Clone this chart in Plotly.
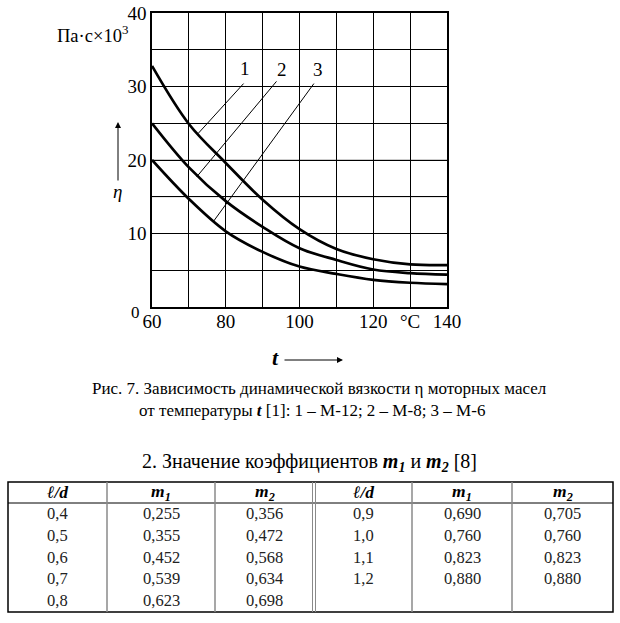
import plotly.graph_objects as go

# ---------------- data ----------------
temperature = [60, 70, 80, 90, 100, 110, 120, 130, 140]
visc_m12 = [32.8, 24.9, 19.6, 14.6, 10.6, 7.9, 6.5, 5.8, 5.7]
visc_m8 = [25.0, 19.0, 14.4, 10.9, 8.0, 6.4, 5.1, 4.6, 4.4]
visc_m6 = [20.0, 14.7, 10.3, 7.5, 5.5, 4.5, 3.7, 3.3, 3.1]

x_ticks = [60, 70, 80, 90, 100, 110, 120, 130, 140]
x_ticktext = ["60", "", "80", "", "100", "", "120", "°C", "140"]
y_ticks = [0, 5, 10, 15, 20, 25, 30, 35, 40]
y_ticktext = ["", "", "10", "", "20", "", "30", "", "40"]

ld_left = [0.4, 0.5, 0.6, 0.7, 0.8]
m1_left = [0.255, 0.355, 0.452, 0.539, 0.623]
m2_left = [0.356, 0.472, 0.568, 0.634, 0.698]
ld_right = [0.9, 1.0, 1.1, 1.2]
m1_right = [0.690, 0.760, 0.823, 0.880]
m2_right = [0.705, 0.760, 0.823, 0.880]

W, H = 620, 623
SERIF = "Liberation Serif, Times New Roman, serif"


def px(x):
    return x / W


def py(y):
    return 1 - y / H


def ptext(x, y, text, size, color="black", xanchor="center"):
    return dict(x=px(x), y=py(y), xref="paper", yref="paper", xanchor=xanchor, yanchor="middle",
                text=text, showarrow=False, font=dict(family=SERIF, size=size, color=color))


fig = go.Figure()
for vals in (visc_m12, visc_m8, visc_m6):
    fig.add_trace(go.Scatter(x=temperature, y=vals, mode="lines",
                             line=dict(color="black", width=2.7, shape="spline", smoothing=1.0),
                             hoverinfo="skip", showlegend=False))

ann = []
shapes = []

# gray grid lines (scan look)
for yv in (15, 20):
    shapes.append(dict(type="line", xref="x", yref="y", x0=60, x1=140, y0=yv, y1=yv,
                       line=dict(color="#9a9a9a", width=1.2), layer="below"))

# curve labels with leader lines
labels = [("1", 85.2, 32.5, 85.2, 30.6, 72.5, 23.6),
          ("2", 95.2, 32.3, 94.1, 30.9, 72.1, 17.7),
          ("3", 105.1, 32.3, 104.2, 30.6, 76.6, 11.6)]
for txt, lx, ly, x0, y0, x1, y1 in labels:
    ann.append(dict(x=lx, y=ly, xref="x", yref="y", text=txt, showarrow=False,
                    xanchor="center", yanchor="middle",
                    font=dict(family=SERIF, size=19, color="black")))
    ann.append(dict(x=x1, y=y1, xref="x", yref="y", ax=x0, ay=y0, axref="x", ayref="y",
                    text="", showarrow=True, arrowhead=0, arrowwidth=1, arrowcolor="black"))

# axis decorations
ann.append(ptext(130, 34, "Па·с×10<sup>3</sup>", 18.5, xanchor="right"))
ann.append(ptext(135, 312, "0", 17))
ann.append(dict(x=px(118), y=py(122), xref="paper", yref="paper", ax=0, ay=60, text="",
                showarrow=True, arrowhead=2, arrowsize=1.2, arrowwidth=1, arrowcolor="black"))
ann.append(ptext(117, 192, "<i>η</i>", 19))
ann.append(ptext(275, 357, "<b><i>t</i></b>", 22))
ann.append(dict(x=px(343), y=py(360), xref="paper", yref="paper", ax=-60, ay=0, text="",
                showarrow=True, arrowhead=2, arrowsize=1.2, arrowwidth=1, arrowcolor="black"))

# caption
ann.append(ptext(319, 388, "Рис. 7. Зависимость динамической вязкости η моторных масел", 17))
ann.append(ptext(312, 410, "от температуры <b><i>t</i></b> [1]: 1 – М-12; 2 – М-8; 3 – М-6", 17))
ann.append(ptext(309, 462, "2. Значение коэффициентов <b><i>m<sub>1</sub></i></b> и <b><i>m<sub>2</sub></i></b> [8]", 20))

# table
col_edges = [8, 107, 215, 314, 412, 512, 613]
col_centers = [(col_edges[i] + col_edges[i + 1]) / 2 for i in range(6)]
top, head_bot, bottom = 482, 503, 612
row_centers = [513, 535, 557, 578, 600]
headers = ["<b><i>ℓ/d</i></b>", "<b><i>m<sub>1</sub></i></b>", "<b><i>m<sub>2</sub></i></b>"] * 2
for c, h in zip(col_centers, headers):
    ann.append(ptext(c, 492.5, h, 17.5))


def fmt(v, d):
    return f"{v:.{d}f}".replace(".", ",")


columns = [(ld_left, 1), (m1_left, 3), (m2_left, 3), (ld_right, 1), (m1_right, 3), (m2_right, 3)]
for ci, (vals, d) in enumerate(columns):
    for ri, v in enumerate(vals):
        ann.append(ptext(col_centers[ci], row_centers[ri], fmt(v, d), 16.5, color="#222"))

shapes.append(dict(type="rect", xref="paper", yref="paper", x0=px(8), x1=px(613), y0=py(top), y1=py(bottom),
                   line=dict(color="black", width=1.5)))
shapes.append(dict(type="line", xref="paper", yref="paper", x0=px(8), x1=px(613), y0=py(head_bot), y1=py(head_bot),
                   line=dict(color="black", width=1)))
for xe in (107, 215, 412, 512):
    shapes.append(dict(type="line", xref="paper", yref="paper", x0=px(xe), x1=px(xe), y0=py(top), y1=py(bottom),
                       line=dict(color="#8a8a8a", width=1.5)))
for xe in (312.5, 315.5):
    shapes.append(dict(type="line", xref="paper", yref="paper", x0=px(xe), x1=px(xe), y0=py(top), y1=py(bottom),
                       line=dict(color="#8a8a8a", width=1)))

fig.update_layout(
    template="none",
    width=W, height=H, margin=dict(l=0, r=0, t=0, b=0, pad=0, autoexpand=False),
    paper_bgcolor="white", plot_bgcolor="white",
    xaxis=dict(domain=[px(152), px(447)], range=[60, 140], tickvals=x_ticks, ticktext=x_ticktext,
               showgrid=True, gridcolor="black", gridwidth=1, zeroline=False, automargin=False,
               showline=True, linecolor="black", linewidth=1.5, mirror=True, ticks="",
               ticklabelstandoff=-4,
               tickfont=dict(family=SERIF, size=19, color="black"), fixedrange=True),
    yaxis=dict(domain=[py(307), py(13)], range=[0, 40], tickvals=y_ticks, ticktext=y_ticktext,
               showgrid=True, gridcolor="black", gridwidth=1, zeroline=False, automargin=False,
               showline=True, linecolor="black", linewidth=1.5, mirror=True, ticks="",
               tickfont=dict(family=SERIF, size=19, color="black"), fixedrange=True),
    annotations=ann, shapes=shapes,
)

fig.write_html("out.html")
